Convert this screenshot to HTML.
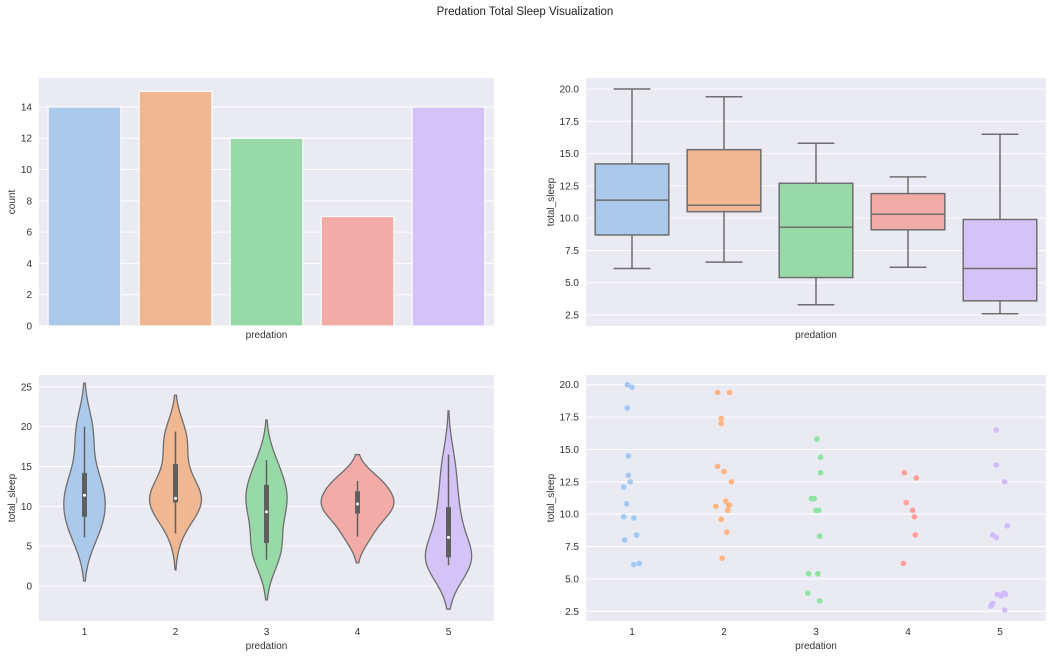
<!DOCTYPE html><html><head><meta charset="utf-8"><style>body{margin:0;background:#fff}svg{display:block;font-family:"Liberation Sans",sans-serif}</style></head><body>
<svg id="s" width="1050" height="658" xmlns="http://www.w3.org/2000/svg">
<text x="525" y="15" font-size="11.5" text-anchor="middle" fill="#222">Predation Total Sleep Visualization</text>
</svg>
<script>
const S=document.getElementById('s');const NS='http://www.w3.org/2000/svg';
function el(t,a,txt){const e=document.createElementNS(NS,t);for(const k in a)e.setAttribute(k,a[k]);if(txt!=null)e.textContent=txt;S.appendChild(e);return e;}
const dc=['#abc9ea','#efb792','#98daa7','#f3aba8','#d3c3f7'];
const pc=['#a1c9f4','#ffb482','#8de5a1','#ff9f9b','#d0bbff'];
function axes(x0,x1,y0,y1,vmin,vmax,ticks,fmt,ylabel,xticks,lx){
 el('rect',{x:x0,y:y0,width:x1-x0,height:y1-y0,fill:'#eaeaf2'});
 const Y=v=>y1-(v-vmin)/(vmax-vmin)*(y1-y0);
 ticks.forEach(t=>{el('line',{x1:x0,x2:x1,y1:Y(t),y2:Y(t),stroke:'#fff','stroke-width':1});
  el('text',{x:x0-7,y:Y(t)+3.5,'font-size':10,'text-anchor':'end',fill:'#333'},fmt(t));});
 const cw=(x1-x0)/5;const X=i=>x0+cw*(i+0.5);
 if(xticks)for(let i=0;i<5;i++){el('text',{x:X(i),y:y1+14,'font-size':10,'text-anchor':'middle',fill:'#333'},i+1);}
 el('text',{x:(x0+x1)/2,y:y1+(xticks?28:12),'font-size':10,'text-anchor':'middle',fill:'#333'},'predation');
 const ly=(y0+y1)/2;el('text',{x:0,y:0,'font-size':10,'text-anchor':'middle',fill:'#333',transform:`translate(${lx},${ly}) rotate(-90)`},ylabel);
 return {Y,X,cw};
}
// bar
let a=axes(39,494,78,326,0,15.85,[0,2,4,6,8,10,12,14],t=>t,'count',false,15);
[14,15,12,7,14].forEach((c,i)=>{el('rect',{x:a.X(i)-a.cw*0.4,y:a.Y(c),width:a.cw*0.8,height:a.Y(0)-a.Y(c),fill:dc[i],stroke:'#fff','stroke-width':1.2});});
// box
let b=axes(586,1046,78,326,1.65,20.85,[2.5,5,7.5,10,12.5,15,17.5,20],t=>t.toFixed(1),'total_sleep',false,554);
const bx=[[6.1,8.7,11.4,14.2,20],[6.6,10.5,11.0,15.3,19.4],[3.3,5.4,9.3,12.7,15.8],[6.2,9.1,10.3,11.9,13.2],[2.6,3.6,6.1,9.9,16.5]];
bx.forEach((q,i)=>{const c=b.X(i),w=b.cw*0.8,g='#6e6e6e';
 el('rect',{x:c-w/2,y:b.Y(q[3]),width:w,height:b.Y(q[1])-b.Y(q[3]),fill:dc[i],stroke:g,'stroke-width':1.5});
 el('line',{x1:c-w/2,x2:c+w/2,y1:b.Y(q[2]),y2:b.Y(q[2]),stroke:g,'stroke-width':1.5});
 el('line',{x1:c,x2:c,y1:b.Y(q[3]),y2:b.Y(q[4]),stroke:g,'stroke-width':1.5});
 el('line',{x1:c,x2:c,y1:b.Y(q[1]),y2:b.Y(q[0]),stroke:g,'stroke-width':1.5});
 el('line',{x1:c-w/4,x2:c+w/4,y1:b.Y(q[4]),y2:b.Y(q[4]),stroke:g,'stroke-width':1.5});
 el('line',{x1:c-w/4,x2:c+w/4,y1:b.Y(q[0]),y2:b.Y(q[0]),stroke:g,'stroke-width':1.5});});
// data
const D=[[[-.05,20],[0,19.8],[-.05,18.2],[-.04,14.5],[-.04,13],[-.02,12.5],[-.09,12.1],[-.06,10.8],[-.09,9.8],[.02,9.7],[.05,8.4],[-.08,8],[.02,6.1],[.08,6.2]],
[[-.07,19.4],[.06,19.4],[-.03,17.4],[-.03,17],[-.07,13.7],[0,13.3],[.08,12.5],[.02,11],[.05,10.7],[.06,10.7],[-.09,10.6],[.04,10.3],[-.03,9.6],[.03,8.6],[-.02,6.6]],
[[.01,15.8],[.05,14.4],[.05,13.2],[-.05,11.2],[0,10.3],[.04,8.3],[-.08,5.4],[.02,5.4],[-.09,3.9],[.04,3.3],[-.02,11.2],[.03,10.3]],
[[-.04,13.2],[.09,12.8],[-.02,10.9],[.05,10.3],[.07,9.8],[.08,8.4],[-.05,6.2]],
[[-.04,16.5],[-.04,13.8],[.05,12.5],[.08,9.1],[-.08,8.4],[-.04,8.2],[-.03,3.8],[.06,3.8],[.04,3.9],[-.09,3],[-.1,2.9],[.05,2.6],[-.08,3.1],[.01,3.7]]];
// strip
let c=axes(586,1046,375,621,1.75,20.75,[2.5,5,7.5,10,12.5,15,17.5,20],t=>t.toFixed(1),'total_sleep',true,554);
D.forEach((g,i)=>g.forEach(p=>el('circle',{cx:c.X(i)+p[0]*c.cw,cy:c.Y(p[1]),r:2.8,fill:pc[i]})));
// violin
let v=axes(39,494,375,621,-4.4,26.5,[0,5,10,15,20,25],t=>t,'total_sleep',true,15);
const kd=[];let gmax=0;
D.forEach((g,i)=>{const xs=g.map(p=>p[1]),n=xs.length,m=xs.reduce((s,x)=>s+x,0)/n;
 const sd=Math.sqrt(xs.reduce((s,x)=>s+(x-m)**2,0)/(n-1));const bw=sd*Math.pow(n,-0.2);
 const lo=Math.min(...xs)-2*bw,hi=Math.max(...xs)+2*bw;const pts=[];
 for(let k=0;k<=100;k++){const y=lo+(hi-lo)*k/100;let d=0;xs.forEach(x=>d+=Math.exp(-0.5*((y-x)/bw)**2));d/=n*bw;pts.push([y,d]);gmax=Math.max(gmax,d);}
 kd.push(pts);});
kd.forEach((pts,i)=>{const c0=v.X(i),hw=v.cw*0.4;let L=[],R=[];
 pts.forEach(([y,d])=>{const w=d/gmax*hw;R.push(`${c0+w},${v.Y(y)}`);L.unshift(`${c0-w},${v.Y(y)}`);});
 el('polygon',{points:R.concat(L).join(' '),fill:dc[i],stroke:'#6e6e6e','stroke-width':1.3});
 const q=bx[i];el('line',{x1:c0,x2:c0,y1:v.Y(q[0]),y2:v.Y(q[4]),stroke:'#5f5f5f','stroke-width':1.5});
 el('rect',{x:c0-2.5,y:v.Y(q[3]),width:5,height:v.Y(q[1])-v.Y(q[3]),fill:'#5f5f5f'});
 el('circle',{cx:c0,cy:v.Y(q[2]),r:1.5,fill:'#fff'});});
</script></body></html>
